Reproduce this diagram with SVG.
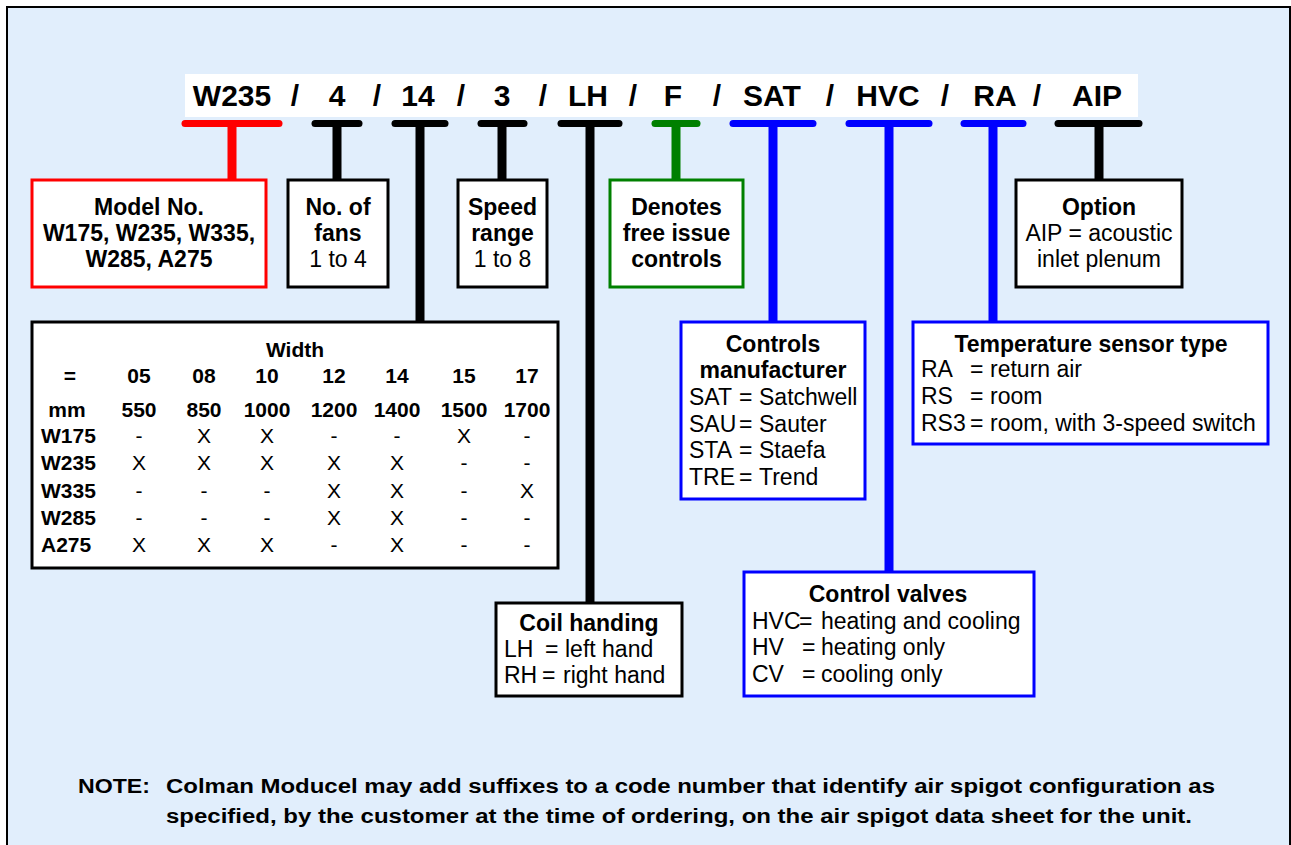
<svg xmlns="http://www.w3.org/2000/svg" width="1291" height="845" viewBox="0 0 1291 845">
<style>
text{font-family:"Liberation Sans",Arial,sans-serif;fill:#000}
.code{font-size:30px;font-weight:bold;text-anchor:middle}
.b{font-weight:bold}
.bx{font-size:23px}
.c{text-anchor:middle}
.tb{font-size:21px}
.box{fill:#fff;stroke-width:3}
.note{font-size:20px;font-weight:bold}
.bar{stroke-width:7;stroke-linecap:round;fill:none}
.stem{stroke-width:9;fill:none}
</style>
<rect x="0" y="0" width="1291" height="845" fill="#fff"/>
<rect x="7" y="7" width="1283" height="850" fill="#E1EEFC" stroke="#000" stroke-width="2"/>
<rect x="185" y="74" width="953" height="43" fill="#fff"/>
<g id="code">
<text class="code" x="232" y="106">W235</text>
<text class="code" x="295" y="106">/</text>
<text class="code" x="337" y="106">4</text>
<text class="code" x="377" y="106">/</text>
<text class="code" x="418" y="106">14</text>
<text class="code" x="461" y="106">/</text>
<text class="code" x="502" y="106">3</text>
<text class="code" x="543" y="106">/</text>
<text class="code" x="588" y="106">LH</text>
<text class="code" x="633" y="106">/</text>
<text class="code" x="673" y="106">F</text>
<text class="code" x="717" y="106">/</text>
<text class="code" x="772" y="106">SAT</text>
<text class="code" x="830" y="106">/</text>
<text class="code" x="888" y="106">HVC</text>
<text class="code" x="945" y="106">/</text>
<text class="code" x="995" y="106">RA</text>
<text class="code" x="1037" y="106">/</text>
<text class="code" x="1097" y="106">AIP</text>
</g>
<g id="connectors">
<line class="bar" x1="185" y1="123.5" x2="279" y2="123.5" stroke="#f00"/>
<line class="stem" x1="232" y1="123" x2="232" y2="180" stroke="#f00"/>
<line class="bar" x1="315" y1="123.5" x2="359" y2="123.5" stroke="#000"/>
<line class="stem" x1="337" y1="123" x2="337" y2="180" stroke="#000"/>
<line class="bar" x1="395" y1="123.5" x2="445" y2="123.5" stroke="#000"/>
<line class="stem" x1="420" y1="123" x2="420" y2="322" stroke="#000"/>
<line class="bar" x1="481" y1="123.5" x2="524" y2="123.5" stroke="#000"/>
<line class="stem" x1="502" y1="123" x2="502" y2="180" stroke="#000"/>
<line class="bar" x1="561" y1="123.5" x2="619" y2="123.5" stroke="#000"/>
<line class="stem" x1="590" y1="123" x2="590" y2="603" stroke="#000"/>
<line class="bar" x1="655" y1="123.5" x2="697" y2="123.5" stroke="#008000"/>
<line class="stem" x1="676" y1="123" x2="676" y2="180" stroke="#008000"/>
<line class="bar" x1="733" y1="123.5" x2="813" y2="123.5" stroke="#00f"/>
<line class="stem" x1="773" y1="123" x2="773" y2="322" stroke="#00f"/>
<line class="bar" x1="849" y1="123.5" x2="929" y2="123.5" stroke="#00f"/>
<line class="stem" x1="889" y1="123" x2="889" y2="572" stroke="#00f"/>
<line class="bar" x1="964" y1="123.5" x2="1023" y2="123.5" stroke="#00f"/>
<line class="stem" x1="993" y1="123" x2="993" y2="322" stroke="#00f"/>
<line class="bar" x1="1058" y1="123.5" x2="1139" y2="123.5" stroke="#000"/>
<line class="stem" x1="1099" y1="123" x2="1099" y2="180" stroke="#000"/>
</g>
<g id="model">
<rect class="box" x="32" y="180" width="234" height="107" stroke="#f00"/>
<text class="bx b c" x="149" y="215">Model No.</text>
<text class="bx b c" x="149" y="241">W175, W235, W335,</text>
<text class="bx b c" x="149" y="267">W285, A275</text>
</g>
<g id="fans">
<rect class="box" x="288" y="180" width="100" height="107" stroke="#000"/>
<text class="bx b c" x="338" y="215">No. of</text>
<text class="bx b c" x="338" y="241">fans</text>
<text class="bx c" x="338" y="267">1 to 4</text>
</g>
<g id="speed">
<rect class="box" x="458" y="180" width="89" height="107" stroke="#000"/>
<text class="bx b c" x="502.5" y="215">Speed</text>
<text class="bx b c" x="502.5" y="241">range</text>
<text class="bx c" x="502.5" y="267">1 to 8</text>
</g>
<g id="freeissue">
<rect class="box" x="610" y="180" width="133" height="107" stroke="#008000"/>
<text class="bx b c" x="676.5" y="215">Denotes</text>
<text class="bx b c" x="676.5" y="241">free issue</text>
<text class="bx b c" x="676.5" y="267">controls</text>
</g>
<g id="option">
<rect class="box" x="1016" y="180" width="166" height="107" stroke="#000"/>
<text class="bx b c" x="1099" y="215">Option</text>
<text class="bx c" x="1099" y="241">AIP = acoustic</text>
<text class="bx c" x="1099" y="267">inlet plenum</text>
</g>
<g id="width-table">
<rect class="box" x="32" y="322" width="526" height="246" stroke="#000"/>
<text class="tb b c" x="295" y="357">Width</text>
<g class="tb b c">
<text x="70" y="383">=</text><text x="139" y="383">05</text><text x="204" y="383">08</text><text x="267" y="383">10</text><text x="334" y="383">12</text><text x="397" y="383">14</text><text x="464" y="383">15</text><text x="527" y="383">17</text>
<text x="67" y="417">mm</text><text x="139" y="417">550</text><text x="204" y="417">850</text><text x="267" y="417">1000</text><text x="334" y="417">1200</text><text x="397" y="417">1400</text><text x="464" y="417">1500</text><text x="527" y="417">1700</text>
</g>
<g class="tb b">
<text x="41" y="443">W175</text><text x="41" y="470">W235</text><text x="41" y="498">W335</text><text x="41" y="525">W285</text><text x="41" y="552">A275</text>
</g>
<g class="tb c">
<text x="139" y="443">-</text><text x="204" y="443">X</text><text x="267" y="443">X</text><text x="334" y="443">-</text><text x="397" y="443">-</text><text x="464" y="443">X</text><text x="527" y="443">-</text>
<text x="139" y="470">X</text><text x="204" y="470">X</text><text x="267" y="470">X</text><text x="334" y="470">X</text><text x="397" y="470">X</text><text x="464" y="470">-</text><text x="527" y="470">-</text>
<text x="139" y="498">-</text><text x="204" y="498">-</text><text x="267" y="498">-</text><text x="334" y="498">X</text><text x="397" y="498">X</text><text x="464" y="498">-</text><text x="527" y="498">X</text>
<text x="139" y="525">-</text><text x="204" y="525">-</text><text x="267" y="525">-</text><text x="334" y="525">X</text><text x="397" y="525">X</text><text x="464" y="525">-</text><text x="527" y="525">-</text>
<text x="139" y="552">X</text><text x="204" y="552">X</text><text x="267" y="552">X</text><text x="334" y="552">-</text><text x="397" y="552">X</text><text x="464" y="552">-</text><text x="527" y="552">-</text>
</g>
</g>
<g id="manufacturer">
<rect class="box" x="681" y="322" width="184" height="177" stroke="#00f"/>
<text class="bx b c" x="773" y="352">Controls</text>
<text class="bx b c" x="773" y="378">manufacturer</text>
<g class="bx">
<text x="689" y="405">SAT</text><text x="739" y="405">=</text><text x="759" y="405">Satchwell</text>
<text x="689" y="432">SAU</text><text x="739" y="432">=</text><text x="759" y="432">Sauter</text>
<text x="689" y="458">STA</text><text x="739" y="458">=</text><text x="759" y="458">Staefa</text>
<text x="689" y="485">TRE</text><text x="739" y="485">=</text><text x="759" y="485">Trend</text>
</g>
</g>
<g id="sensor">
<rect class="box" x="913" y="322" width="355" height="122" stroke="#00f"/>
<text class="bx b c" x="1091" y="352">Temperature sensor type</text>
<g class="bx">
<text x="921" y="377">RA</text><text x="970" y="377">=</text><text x="990" y="377">return air</text>
<text x="921" y="404">RS</text><text x="970" y="404">=</text><text x="990" y="404">room</text>
<text x="921" y="431">RS3</text><text x="970" y="431">=</text><text x="990" y="431">room, with 3-speed switch</text>
</g>
</g>
<g id="coil">
<rect class="box" x="496" y="603" width="186" height="93" stroke="#000"/>
<text class="bx b c" x="589" y="631">Coil handing</text>
<g class="bx">
<text x="504" y="657">LH</text><text x="545" y="657">=</text><text x="565" y="657">left hand</text>
<text x="504" y="683">RH</text><text x="542" y="683">=</text><text x="563" y="683">right hand</text>
</g>
</g>
<g id="valves">
<rect class="box" x="744" y="572" width="290" height="124" stroke="#00f"/>
<text class="bx b c" x="888" y="602">Control valves</text>
<g class="bx">
<text x="752" y="629">HVC</text><text x="799" y="629">=</text><text x="821" y="629">heating and cooling</text>
<text x="752" y="655">HV</text><text x="802" y="655">=</text><text x="821" y="655">heating only</text>
<text x="752" y="682">CV</text><text x="802" y="682">=</text><text x="821" y="682">cooling only</text>
</g>
</g>
<g id="note">
<text class="note" x="78" y="793" textLength="72" lengthAdjust="spacingAndGlyphs">NOTE:</text>
<text class="note" x="166" y="793" textLength="1049" lengthAdjust="spacingAndGlyphs">Colman Moducel may add suffixes to a code number that identify air spigot configuration as</text>
<text class="note" x="166" y="823" textLength="1026" lengthAdjust="spacingAndGlyphs">specified, by the customer at the time of ordering, on the air spigot data sheet for the unit.</text>
</g>
</svg>
